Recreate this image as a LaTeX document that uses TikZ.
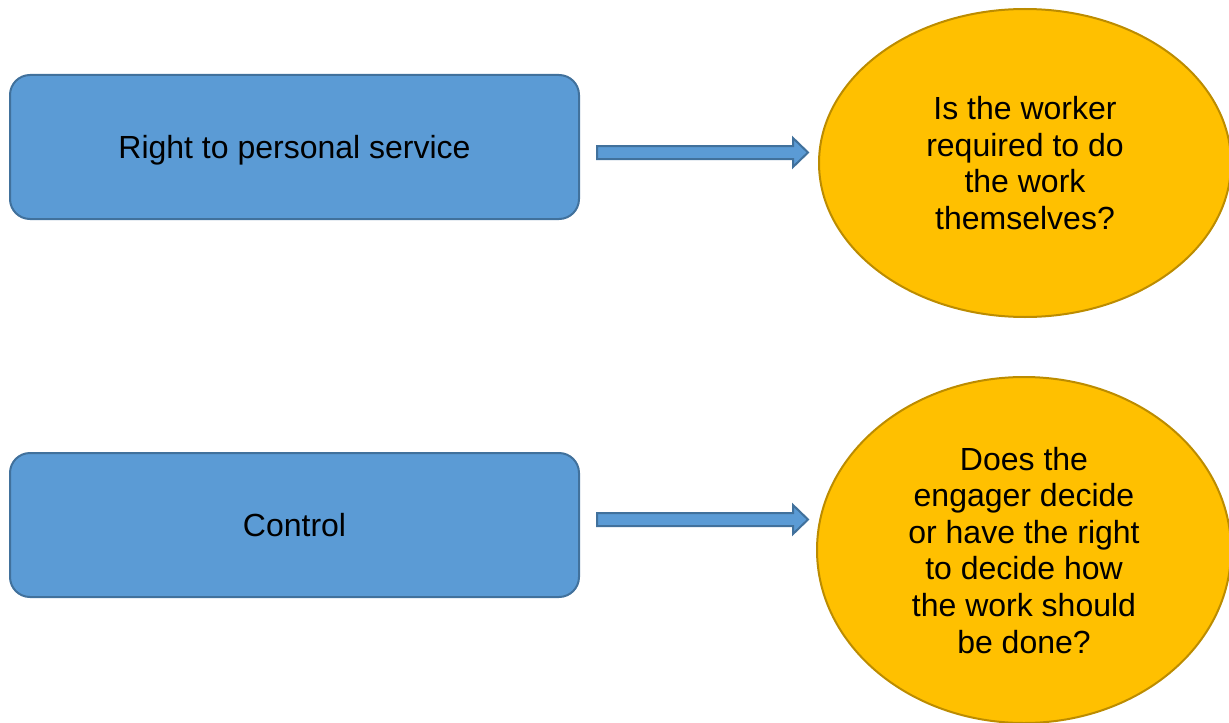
\documentclass[tikz,border=0pt]{standalone}
\usepackage{fontspec}
\setmainfont{Liberation Sans}
\usepackage{xcolor}
\usepackage{tikz}
\usetikzlibrary{calc,shapes.geometric}

\definecolor{boxfill}{HTML}{5B9BD5}
\definecolor{boxline}{HTML}{41719C}
\definecolor{ovalfill}{HTML}{FFC000}
\definecolor{ovalline}{HTML}{BC8C00}

\tikzset{
  testbox/.style={draw=boxline, fill=boxfill, line width=1pt, rounded corners=10pt,
    minimum width=284.5pt, minimum height=72pt, inner sep=0pt, text depth=0pt,
    font=\fontsize{16}{18.3}\selectfont},
  question/.style={ellipse, draw=ovalline, fill=ovalfill, line width=1pt, inner sep=0pt,
    align=center, text depth=0pt, font=\fontsize{16}{18.3}\selectfont},
  blockarrow/.style={draw=boxline, fill=boxfill, line width=1pt, line join=miter}
}

% block arrow from #1 to #2
\newcommand{\blockarrow}[2]{%
\draw [blockarrow] ($(#1)+(0,-6.5)$) -- ($(#2)+(-15,-6.5)$) -- ($(#2)+(-15,-14.5)$) -- (#2)
  -- ($(#2)+(-15,14.5)$) -- ($(#2)+(-15,6.5)$) -- ($(#1)+(0,6.5)$) -- cycle;}

\begin{document}
\begin{tikzpicture}[x=0.5pt,y=-0.5pt]
\useasboundingbox (0,0) rectangle (1229,722);
% first test
\node [testbox] (personal) at (294.5,147) {Right to personal service};
\node [question, minimum width=206pt, minimum height=154pt] (personalq) at (1025,163)
  {Is the worker\\required to do\\the work\\themselves?};
\coordinate (pstart) at (597,152.5);
\coordinate (pend) at (808,152.5);
\blockarrow{pstart}{pend}
% second test
\node [testbox] (control) at (294.5,525) {Control};
\node [question, minimum width=207pt, minimum height=173pt] (controlq) at (1024,550)
  {Does the\\engager decide\\or have the right\\to decide how\\the work should\\be done?};
\coordinate (cstart) at (597,519.5);
\coordinate (cend) at (808,519.5);
\blockarrow{cstart}{cend}
\end{tikzpicture}
\end{document}
